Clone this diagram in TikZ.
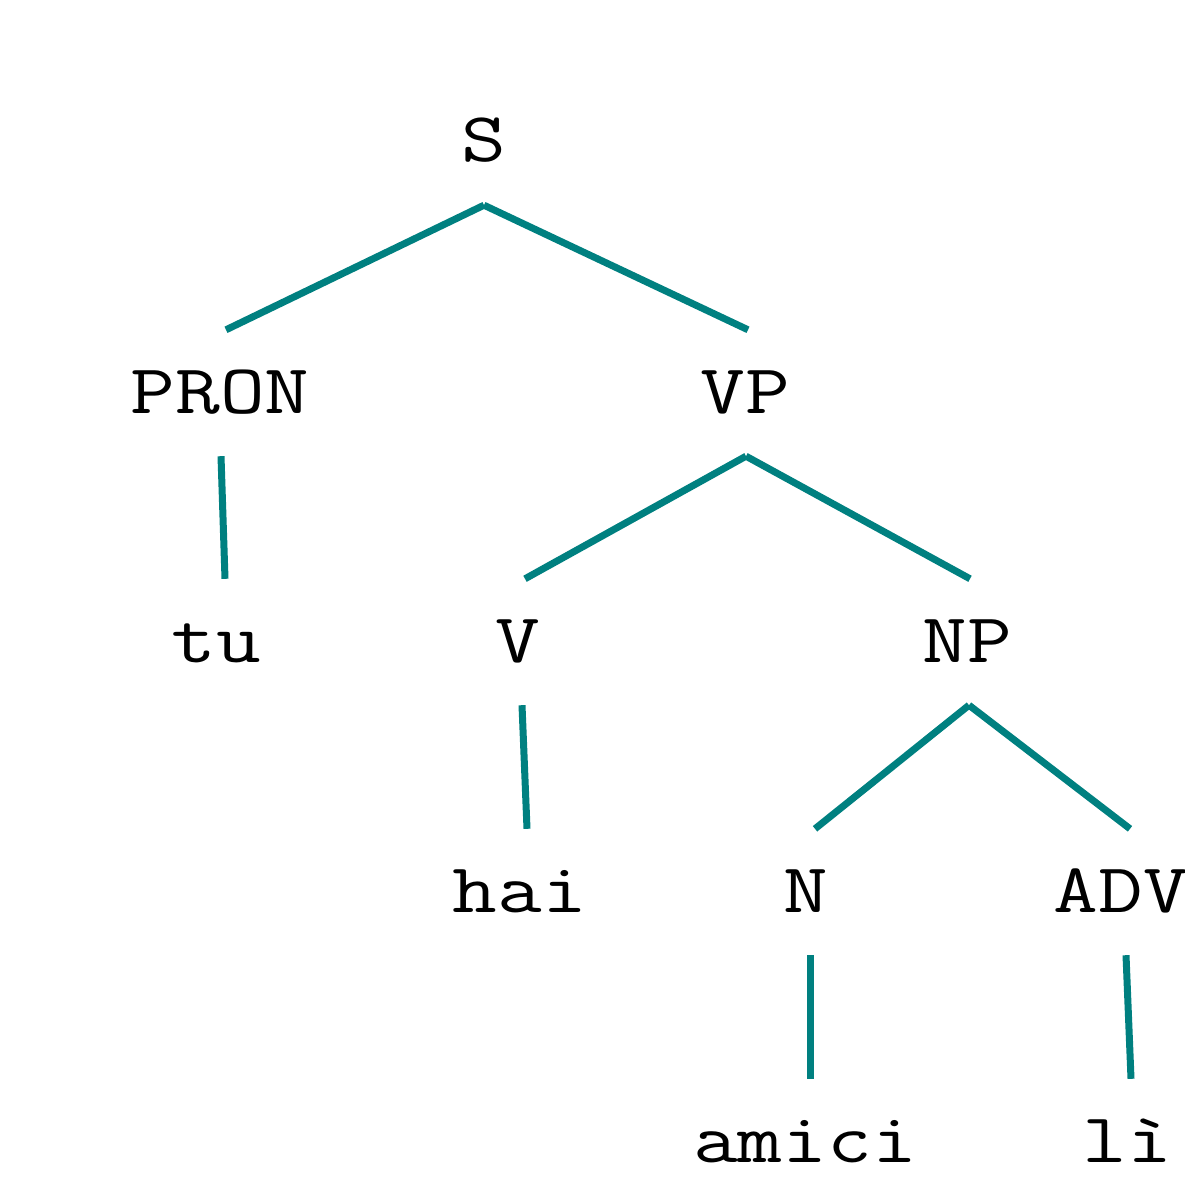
\documentclass[tikz,border=0pt]{standalone}
\usepackage{fontspec}
\newfontfamily\courfont[FakeStretch=1.24]{Latin Modern Mono}
\definecolor{edgeteal}{RGB}{0,128,128}
\begin{document}
\begin{tikzpicture}[x=1pt,y=-1pt,
  lab/.style={anchor=base, inner xsep=0pt, inner ysep=43pt, text height=40pt, text depth=0pt,
    font=\courfont\fontsize{70}{76}\selectfont},
  edge/.style={draw=edgeteal, line width=7pt}]
\useasboundingbox (0,0) rectangle (1185,1177);
\node[lab] (S) at (484,162) {S};
\node[lab] (PRON) at (220,413) {PRON};
\node[lab] (VP) at (745,413) {VP};
\node[lab] (tu) at (216,662) {tu};
\node[lab] (V) at (518,662) {V};
\node[lab] (NP) at (967,662) {NP};
\node[lab] (hai) at (520,912) {hai};
\node[lab] (N) at (806,912) {N};
\node[lab] (ADV) at (1121,912) {ADV};
\node[lab] (amici) at (805,1162) {amici};
\node[lab] (li) at (1127,1162) {lì};
\draw[edge] (S.south) -- ([xshift=6pt]PRON.north);
\draw[edge] (S.south) -- ([xshift=3pt]VP.north);
\draw[edge] ([xshift=1pt]PRON.south) -- ([xshift=9pt]tu.north);
\draw[edge] ([xshift=1pt]VP.south) -- ([xshift=7pt]V.north);
\draw[edge] ([xshift=1pt]VP.south) -- ([xshift=3pt]NP.north);
\draw[edge] ([xshift=4pt]V.south) -- ([xshift=7pt]hai.north);
\draw[edge] ([xshift=2pt]NP.south) -- ([xshift=9pt]N.north);
\draw[edge] ([xshift=2pt]NP.south) -- ([xshift=9pt]ADV.north);
\draw[edge] ([xshift=4pt]N.south) -- ([xshift=5pt]amici.north);
\draw[edge] ([xshift=5pt]ADV.south) -- ([xshift=4pt]li.north);
\end{tikzpicture}
\end{document}
